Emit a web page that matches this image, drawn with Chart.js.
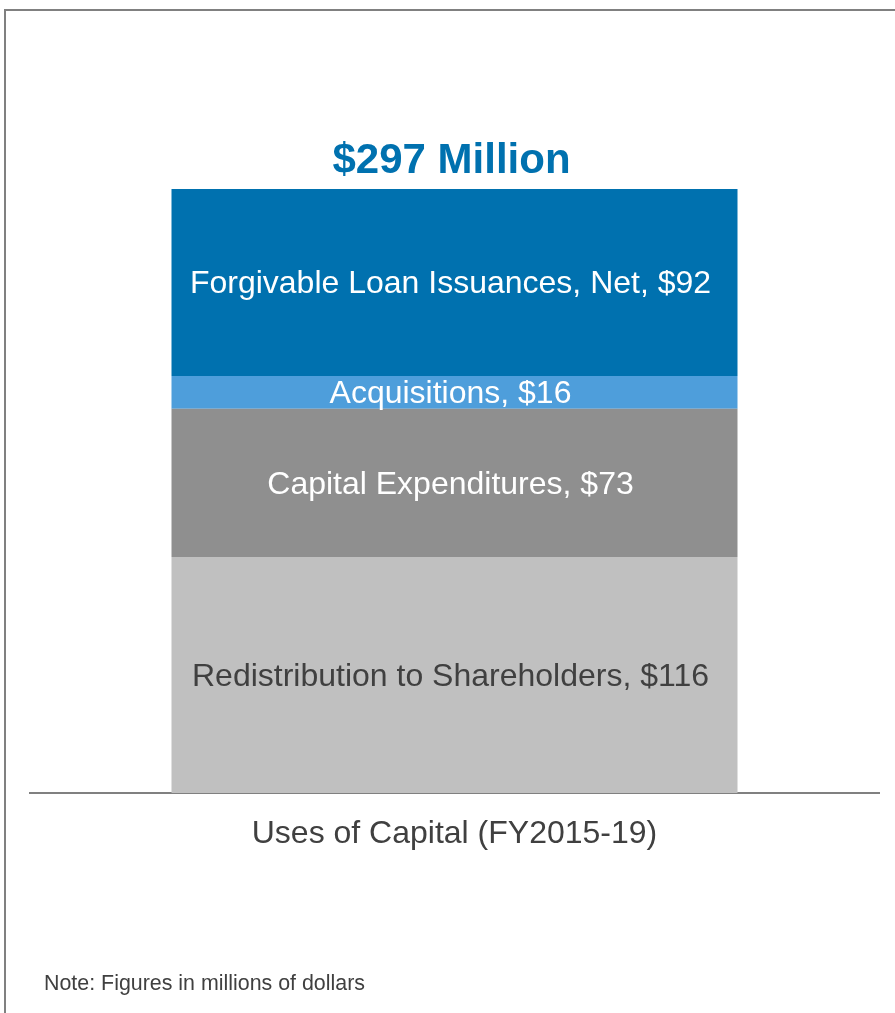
<!DOCTYPE html>
<html>
<head>
<meta charset="utf-8">
<script src="https://cdn.jsdelivr.net/npm/chart.js@4/dist/chart.umd.min.js"></script>
<style>
  body { margin: 0; background: #fff; }
  #wrap { position: relative; width: 895px; height: 1013px; overflow: hidden; }
  #frame { position: absolute; left: 4px; top: 9px; width: 1000px; height: 1100px;
           border-left: 2px solid #808080; border-top: 2px solid #808080; }
  #chart { position: absolute; left: 0; top: 0; }
  #note { position: absolute; left: 44px; top: 971px; font: 21.4px "Liberation Sans", Arial, sans-serif; color: #404040; }
</style>
</head>
<body>
<div id="wrap">
  <div id="frame"></div>
  <canvas id="chart" width="895" height="1013"></canvas>
  <div id="note">Note: Figures in millions of dollars</div>
</div>
<script>
const categories = ["Uses of Capital (FY2015-19)"];
// bottom to top
const segmentNames = ["Redistribution to Shareholders", "Capital Expenditures", "Acquisitions", "Forgivable Loan Issuances, Net"];
const segmentValues = [116, 73, 16, 92];
const segmentColors = ['#C0C0C0', '#8F8F8F', '#4E9EDB', '#0071AF'];
const labelColors = ['#404040', '#ffffff', '#ffffff', '#ffffff'];

const total = segmentValues.reduce((a, b) => a + b, 0);

const segmentLabels = {
    id: 'segmentLabels',
    afterDatasetsDraw(chart) {
        const ctx = chart.ctx;
        ctx.save();
        ctx.font = '32px "Liberation Sans", Arial, sans-serif';
        ctx.textAlign = 'center';
        ctx.textBaseline = 'middle';
        chart.data.datasets.forEach((ds, i) => {
            const bar = chart.getDatasetMeta(i).data[0];
            const yMid = (bar.y + bar.base) / 2;
            ctx.fillStyle = labelColors[i];
            ctx.fillText(`${ds.label}, $${ds.data[0]}`, bar.x - 4, yMid + 2);
        });
        // total above the stack
        const top = chart.scales.y.getPixelForValue(total);
        const x = chart.getDatasetMeta(0).data[0].x;
        ctx.font = 'bold 42px "Liberation Sans", Arial, sans-serif';
        ctx.fillStyle = '#0071AF';
        ctx.textBaseline = 'alphabetic';
        ctx.fillText(`$${total} Million`, x - 3, top - 16);
        ctx.restore();
    }
};

new Chart(document.getElementById('chart'), {
    type: 'bar',
    data: {
        labels: categories,
        datasets: segmentNames.map((name, i) => ({
            label: name,
            data: [segmentValues[i]],
            backgroundColor: segmentColors[i],
            borderWidth: 0,
            categoryPercentage: 566 / 849,
            barPercentage: 1
        }))
    },
    options: {
        responsive: false,
        animation: false,
        layout: { padding: { top: 189, left: 30, right: 16, bottom: 160 } },
        plugins: {
            legend: { display: false },
            tooltip: { enabled: false }
        },
        scales: {
            x: {
                stacked: true,
                grid: { display: false, drawTicks: false },
                border: { display: true, color: '#808080', width: 2 },
                ticks: {
                    color: '#404040',
                    padding: 22,
                    font: { size: 32, family: '"Liberation Sans", Arial, sans-serif' }
                },
                afterFit: (s) => { s.height = 60; }
            },
            y: {
                stacked: true,
                display: false,
                min: 0,
                max: total
            }
        }
    },
    plugins: [segmentLabels]
});
</script>
</body>
</html>
